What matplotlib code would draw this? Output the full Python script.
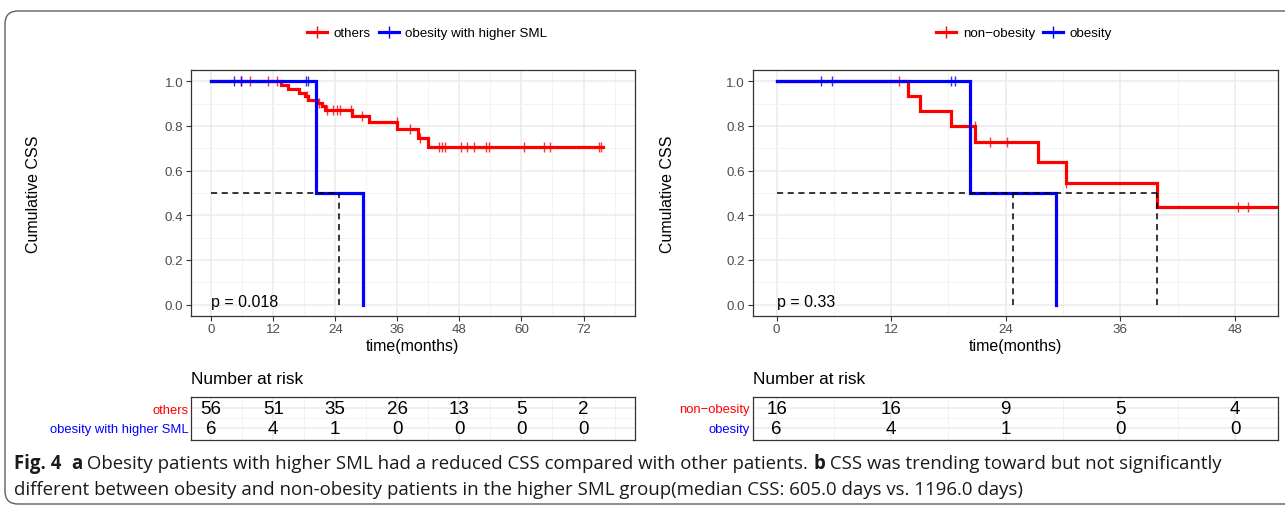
import numpy as np
import matplotlib
matplotlib.use('Agg')
import matplotlib.pyplot as plt
from matplotlib.lines import Line2D
from matplotlib.patches import FancyBboxPatch
from matplotlib.ticker import FormatStrFormatter

plt.rcParams['font.family'] = ['Liberation Sans', 'DejaVu Sans']

# ---------------- data ----------------
# Panel a
a_labels = ['others', 'obesity with higher SML']
a_red_t = [0, 13.6, 14.9, 17.0, 18.1, 18.8, 20.4, 21.4, 22.1, 27.3, 30.5, 36.0, 39.9, 42.0]
a_red_s = [1.0, 0.982, 0.963, 0.945, 0.932, 0.914, 0.904, 0.889, 0.872, 0.845, 0.818, 0.784, 0.745, 0.705]
a_red_end = 75.7
a_red_cens = [5.7, 7.6, 10.9, 12.8, 18.5, 20.5, 20.9, 22.4, 23.6, 24.3, 24.9, 27.0, 29.1,
              35.9, 38.4, 40.4, 44.1, 44.6, 45.3, 48.3, 49.5, 50.9, 53.1, 53.7, 60.5,
              64.4, 65.5, 75.0, 75.4]
a_blue_t = [0, 20.2, 29.3]
a_blue_s = [1.0, 0.5, 0.0]
a_blue_cens = [4.5, 5.7, 18.3, 18.8]
a_medians = [24.75]
a_p = 'p = 0.018'
a_risk_times = [0, 12, 24, 36, 48, 60, 72]
a_risk_red = [56, 51, 35, 26, 13, 5, 2]
a_risk_blue = [6, 4, 1, 0, 0, 0, 0]

# Panel b
b_labels = ['non\u2212obesity', 'obesity']
b_red_t = [0, 13.8, 15.0, 18.3, 20.8, 27.4, 30.3, 39.8]
b_red_s = [1.0, 0.933, 0.867, 0.80, 0.727, 0.636, 0.545, 0.436]
b_red_end = 56.0
b_red_cens = [12.8, 20.75, 22.3, 24.1, 30.35, 48.3, 49.4]
b_blue_t = [0, 20.2, 29.3]
b_blue_s = [1.0, 0.5, 0.0]
b_blue_cens = [4.6, 5.8, 18.3, 18.7]
b_medians = [24.75, 39.8]
b_p = 'p = 0.33'
b_risk_times = [0, 12, 24, 36, 48]
b_risk_red = [16, 16, 9, 5, 4]
b_risk_blue = [6, 4, 1, 0, 0]

caption1 = [('Fig. 4', True), ('  ', False), ('a', True),
            (' Obesity patients with higher SML had a reduced CSS compared with other patients. ', False),
            ('b', True), (' CSS was trending toward but not significantly', False)]
caption2 = [('different between obesity and non-obesity patients in the higher SML group(median CSS: 605.0 days vs. 1196.0 days)', False)]

RED = '#FF0000'
BLUE = '#0000FF'

# ---------------- figure ----------------
W, H = 1285, 510
fig = plt.figure(figsize=(W / 100, H / 100), dpi=100)


def fx(px):
    return px / W


def fy(py):
    return 1 - py / H


border = FancyBboxPatch((0.05, 0.05), 13.5, 4.93,
                        boxstyle='round,pad=0,rounding_size=0.13',
                        transform=fig.dpi_scale_trans, fill=False,
                        edgecolor='#5f5f5f', lw=1.0)
fig.patches.append(border)

SMALL = 9.6     # tick labels, legend, strata labels
MID = 11.5      # axis titles, p-value
top_px, bot_px = 71, 316.7
panels = [
    dict(x0=191, x1=634.7, xlim=(-3.9, 81.9), xmax=72,
         red_t=a_red_t, red_s=a_red_s, red_end=a_red_end, red_c=a_red_cens,
         blue_t=a_blue_t, blue_s=a_blue_s, blue_c=a_blue_cens,
         med=a_medians, p=a_p, labels=a_labels,
         rt=a_risk_times, rr=a_risk_red, rb=a_risk_blue,
         ylab_x=34, leg_x=427),
    dict(x0=752.7, x1=1278, xlim=(-2.5, 52.5), xmax=48,
         red_t=b_red_t, red_s=b_red_s, red_end=b_red_end, red_c=b_red_cens,
         blue_t=b_blue_t, blue_s=b_blue_s, blue_c=b_blue_cens,
         med=b_medians, p=b_p, labels=b_labels,
         rt=b_risk_times, rr=b_risk_red, rb=b_risk_blue,
         ylab_x=668, leg_x=1024),
]


def step_val(t, s, c):
    i = np.searchsorted(np.asarray(t), c, side='right') - 1
    return np.asarray(s)[i]


def grid_style(ax, xlim):
    ax.set_xticks(np.arange(6, xlim[1], 12), minor=True)
    ax.grid(True, which='major', color='#EBEBEB', lw=1.1)
    ax.grid(True, which='minor', color='#F3F3F3', lw=0.7)
    ax.set_axisbelow(True)
    ax.tick_params(which='minor', length=0)
    for sp in ax.spines.values():
        sp.set_color('#333333')
        sp.set_linewidth(0.9)


for P in panels:
    ax = fig.add_axes([fx(P['x0']), fy(bot_px), fx(P['x1'] - P['x0']), (bot_px - top_px) / H])
    ax.set_xlim(*P['xlim'])
    ax.set_ylim(-0.05, 1.05)
    ax.set_xticks(np.arange(0, P['xmax'] + 1, 12))
    ax.set_yticks(np.arange(0, 1.01, 0.2))
    ax.set_yticks(np.arange(0.1, 1.0, 0.2), minor=True)
    grid_style(ax, P['xlim'])
    ax.yaxis.set_major_formatter(FormatStrFormatter('%.1f'))
    ax.tick_params(which='major', length=3.5, width=0.8, color='#333333',
                   labelcolor='#4D4D4D', labelsize=SMALL, pad=2)

    # red curve
    rt = list(P['red_t']) + [P['red_end']]
    rs = list(P['red_s']) + [P['red_s'][-1]]
    ax.step(rt, rs, where='post', color=RED, lw=2.3, zorder=3, solid_joinstyle='miter')
    ax.plot(P['red_c'], step_val(P['red_t'], P['red_s'], P['red_c']), ls='none',
            marker='|', ms=7, mew=1.0, color=RED, alpha=0.8, zorder=3)
    # blue curve
    ax.step(P['blue_t'], P['blue_s'], where='post', color=BLUE, lw=2.3, zorder=4,
            solid_joinstyle='miter')
    ax.plot(P['blue_c'], step_val(P['blue_t'], P['blue_s'], P['blue_c']), ls='none',
            marker='|', ms=7, mew=1.0, color=BLUE, alpha=0.8, zorder=4)

    # median lines
    ax.plot([0, max(P['med'])], [0.5, 0.5], color='black', ls=(0, (4, 3)), lw=1.1, zorder=5)
    for m in P['med']:
        ax.plot([m, m], [0, 0.5], color='black', ls=(0, (4, 3)), lw=1.1, zorder=5)

    ax.text(0, 0.012, P['p'], ha='left', va='center', fontsize=MID, color='black', zorder=6)

    ax.set_xlabel('time(months)', fontsize=MID, color='black')
    ax.xaxis.set_label_coords(0.5, -(346.7 - bot_px) / (bot_px - top_px))
    ax.xaxis.label.set_va('center')
    ax.set_ylabel('Cumulative CSS', fontsize=MID, color='black')
    ax.yaxis.set_label_coords((P['ylab_x'] - P['x0']) / (P['x1'] - P['x0']), 0.5)
    ax.yaxis.label.set_va('center')

    # legend
    handles = [Line2D([0], [0], color=RED, lw=2.3, marker='|', ms=8, mew=1.0),
               Line2D([0], [0], color=BLUE, lw=2.3, marker='|', ms=8, mew=1.0)]
    fig.legend(handles, P['labels'], loc='center', bbox_to_anchor=(fx(P['leg_x']), fy(34)),
               ncol=2, frameon=False, fontsize=SMALL, handlelength=1.5, handletextpad=0.5,
               columnspacing=0.6, numpoints=1)

    # risk table
    tax = fig.add_axes([fx(P['x0']), fy(441), fx(P['x1'] - P['x0']), 43 / H])
    tax.set_xlim(*P['xlim'])
    tax.set_ylim(0.4, 2.55)
    tax.set_xticks(np.arange(0, P['xmax'] + 1, 12))
    tax.set_yticks([2, 1])
    tax.set_yticks([1.5], minor=True)
    grid_style(tax, P['xlim'])
    tax.tick_params(axis='x', which='both', length=0, labelbottom=False)
    tax.tick_params(axis='y', which='both', length=0, pad=2)
    tax.set_yticklabels(P['labels'], fontsize=SMALL - 0.2)
    tax.get_yticklabels()[0].set_color(RED)
    tax.get_yticklabels()[1].set_color(BLUE)
    for t, n in zip(P['rt'], P['rr']):
        tax.text(t, 2, str(n), ha='center', va='center', fontsize=13.5, color='black')
    for t, n in zip(P['rt'], P['rb']):
        tax.text(t, 1, str(n), ha='center', va='center', fontsize=13.5, color='black')
    fig.text(fx(P['x0']), fy(380), 'Number at risk', ha='left', va='center',
             fontsize=12.4, color='black')

# ---------------- caption ----------------
cap_family = ['Open Sans', 'DejaVu Sans']
fig.canvas.draw()
renderer = fig.canvas.get_renderer()


def measure(segs, size):
    tot = 0
    for txt, b in segs:
        t = fig.text(0, 0, txt, fontsize=size, family=cap_family,
                     fontweight='bold' if b else 'normal')
        tot += t.get_window_extent(renderer=renderer).width
        t.remove()
    return tot


base = 10.0
w1 = measure(caption1, base)
size = base * (1220 - 14) / w1


def draw_line(segs, x0, ybase, size):
    x = x0
    for txt, b in segs:
        t = fig.text(fx(x), fy(ybase), txt, fontsize=size, family=cap_family,
                     fontweight='bold' if b else 'normal', ha='left', va='baseline',
                     color='#1a1a1a')
        x += t.get_window_extent(renderer=renderer).width


draw_line(caption1, 14, 469, size)
draw_line(caption2, 14, 495, size)

fig.savefig('out.png', dpi=100)
